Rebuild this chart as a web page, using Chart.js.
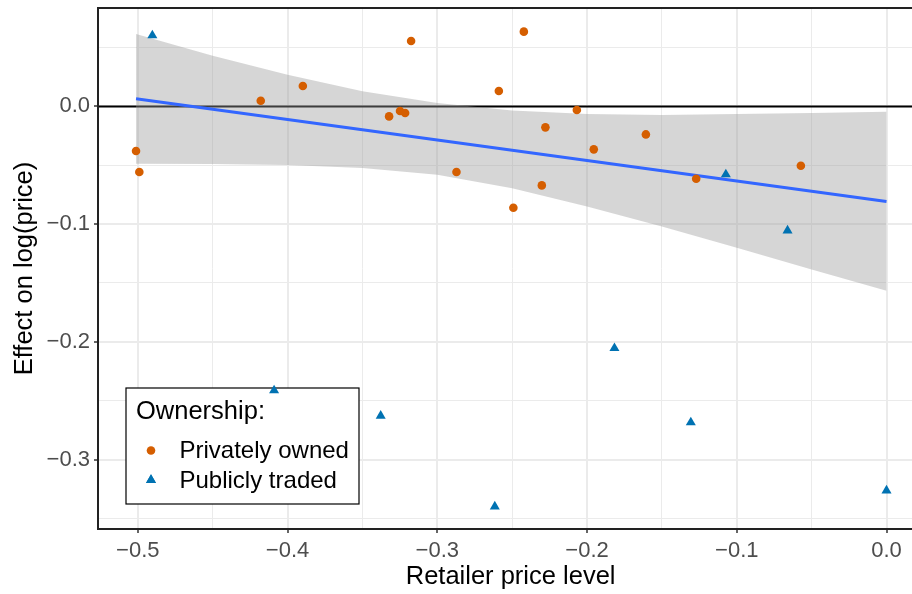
<!DOCTYPE html>
<html>
<head>
<meta charset="utf-8">
<script src="https://cdn.jsdelivr.net/npm/chart.js@4.4.0/dist/chart.umd.min.js"></script>
<style>
  html, body { margin: 0; padding: 0; background: #fff; overflow: hidden; }
  /* the panel runs a little past the right edge of the picture, so the canvas is wider and clipped */
  #wrap { width: 912px; height: 594px; overflow: hidden; position: relative; }
  #chart { position: absolute; left: 0; top: 0; }
</style>
</head>
<body>
<div id="wrap"><canvas id="chart" width="929" height="594"></canvas></div>
<script>
// privately owned retailers
const privX = [-0.5012, -0.4990, -0.4179, -0.3898, -0.3322, -0.3249, -0.3215, -0.3175, -0.2872, -0.2589,
               -0.2492, -0.2422, -0.2302, -0.2278, -0.2068, -0.1955, -0.1607, -0.1271, -0.0572];
const privY = [-0.0379, -0.0557, 0.0048, 0.0173, -0.0085, -0.0039, -0.0056, 0.0556, -0.0557, 0.0131,
               -0.0861, 0.0635, -0.0671, -0.0178, -0.0031, -0.0365, -0.0238, -0.0614, -0.0504];

// publicly traded retailers
const pubX = [-0.4903, -0.4090, -0.3378, -0.2616, -0.1817, -0.1307, -0.1073, -0.0661, 0.0];
const pubY = [0.0603, -0.2413, -0.2629, -0.3399, -0.2054, -0.2685, -0.0578, -0.1054, -0.3263];

// linear fit and its confidence band
const fitX = [-0.5012, 0.0];
const fitY = [0.0065, -0.0807];
const bandX = [-0.5012, -0.45, -0.4, -0.35, -0.3, -0.25, -0.2, -0.15, -0.1, -0.05, 0.0];
const bandUpper = [0.0615, 0.0431, 0.0269, 0.0128, 0.0029, -0.0035, -0.0065, -0.0073, -0.0065, -0.0056, -0.0045];
const bandLower = [-0.0487, -0.0490, -0.0498, -0.0524, -0.0580, -0.0695, -0.0850, -0.1020, -0.1200, -0.1385, -0.1566];

// ticks
const xTicks = [-0.5, -0.4, -0.3, -0.2, -0.1, 0.0];
const xTickLabels = ['\u22120.5', '\u22120.4', '\u22120.3', '\u22120.2', '\u22120.1', '0.0'];
const xMinor = [-0.45, -0.35, -0.25, -0.15, -0.05];
const yTicks = [-0.3, -0.2, -0.1, 0.0];
const yTickLabels = ['\u22120.3', '\u22120.2', '\u22120.1', '0.0'];
const yMinor = [-0.35, -0.25, -0.15, -0.05, 0.05];

const FONT = "'Liberation Sans', Arial, sans-serif";
Chart.defaults.font.family = FONT;

const toPoints = (xs, ys) => xs.map((x, i) => ({ x: x, y: ys[i] }));
const isMajor = (v, list) => list.some(t => Math.abs(t - v) < 1e-9);
const labelFor = (v, list, labels) => {
    const i = list.findIndex(t => Math.abs(t - v) < 1e-9);
    return i >= 0 ? labels[i] : '';
};
const allTicks = (major, minor) => major.concat(minor).sort((a, b) => a - b).map(v => ({ value: v }));
const noPadding = s => {
    s.paddingTop = 0;
    s.paddingBottom = 0;
    s.paddingLeft = 0;
    s.paddingRight = 0;
};

// zero line and legend box go under the marks; the points sit on top of them
const underlay = {
    id: 'underlay',
    beforeDatasetsDraw(chart) {
        const { ctx, chartArea, scales } = chart;
        const y = scales.y.getPixelForValue(0);
        ctx.save();
        ctx.strokeStyle = '#000';
        ctx.lineWidth = 2;
        ctx.beginPath();
        ctx.moveTo(chartArea.left, y);
        ctx.lineTo(chartArea.right, y);
        ctx.stroke();

        ctx.fillStyle = '#fff';
        ctx.fillRect(126, 388, 233, 116);
        ctx.strokeStyle = '#000';
        ctx.lineWidth = 1.2;
        ctx.strokeRect(126, 388, 233, 116);

        ctx.fillStyle = '#000';
        ctx.textAlign = 'left';
        ctx.textBaseline = 'alphabetic';
        ctx.font = "25.5px " + FONT;
        ctx.fillText('Ownership:', 136, 419);
        ctx.font = "24px " + FONT;
        ctx.fillText('Privately owned', 179.5, 458);
        ctx.fillText('Publicly traded', 179.5, 488);

        ctx.fillStyle = '#D55E00';
        ctx.beginPath();
        ctx.arc(151, 450.5, 4.3, 0, Math.PI * 2);
        ctx.fill();

        ctx.fillStyle = '#0072B2';
        Chart.helpers.drawPoint(ctx, { pointStyle: 'triangle', radius: 5.8, borderWidth: 0 }, 151, 480);
        ctx.fill();
        ctx.restore();
    }
};

const panelBorder = {
    id: 'panelBorder',
    afterDraw(chart) {
        const { ctx, chartArea } = chart;
        ctx.save();
        ctx.strokeStyle = '#222';
        ctx.lineWidth = 2;
        ctx.strokeRect(chartArea.left, chartArea.top, chartArea.right - chartArea.left, chartArea.bottom - chartArea.top);
        ctx.restore();
    }
};

new Chart(document.getElementById('chart'), {
    type: 'scatter',
    data: {
        datasets: [
            {
                label: 'Privately owned',
                data: toPoints(privX, privY),
                pointStyle: 'circle',
                pointRadius: 4.3,
                pointBackgroundColor: '#D55E00',
                pointBorderWidth: 0,
                order: 0
            },
            {
                label: 'Publicly traded',
                data: toPoints(pubX, pubY),
                pointStyle: 'triangle',
                pointRadius: 5.8,
                pointBackgroundColor: '#0072B2',
                pointBorderWidth: 0,
                order: 0
            },
            {
                type: 'line',
                label: 'fit',
                data: toPoints(fitX, fitY),
                borderColor: '#3366FF',
                borderWidth: 3,
                pointRadius: 0,
                fill: false,
                order: 1
            },
            {
                type: 'line',
                label: 'upper',
                data: toPoints(bandX, bandUpper),
                borderColor: 'rgba(0,0,0,0)',
                borderWidth: 0,
                pointRadius: 0,
                backgroundColor: 'rgba(153,153,153,0.4)',
                fill: '+1',
                order: 2
            },
            {
                type: 'line',
                label: 'lower',
                data: toPoints(bandX, bandLower),
                borderColor: 'rgba(0,0,0,0)',
                borderWidth: 0,
                pointRadius: 0,
                fill: false,
                order: 3
            }
        ]
    },
    options: {
        responsive: false,
        animation: false,
        devicePixelRatio: 1,
        layout: { padding: { top: 8, right: 0, bottom: 0, left: 0 } },
        plugins: {
            legend: { display: false },
            tooltip: { enabled: false }
        },
        scales: {
            x: {
                type: 'linear',
                min: -0.5266,
                max: 0.0245,
                afterBuildTicks: s => { s.ticks = allTicks(xTicks, xMinor); },
                afterFit: s => { s.height = 65; noPadding(s); },
                border: { display: false },
                grid: {
                    color: '#ebebeb',
                    lineWidth: c => (c.tick && isMajor(c.tick.value, xTicks)) ? 2 : 1,
                    tickColor: c => (c.tick && isMajor(c.tick.value, xTicks)) ? '#333' : 'rgba(0,0,0,0)',
                    tickWidth: 1.5,
                    tickLength: 4
                },
                ticks: {
                    autoSkip: false,
                    maxRotation: 0,
                    padding: 5,
                    color: '#4d4d4d',
                    font: { size: 22 },
                    callback: v => labelFor(v, xTicks, xTickLabels)
                },
                title: {
                    display: true,
                    text: 'Retailer price level',
                    color: '#000',
                    font: { size: 25.5 },
                    padding: { top: 0, bottom: 2 }
                }
            },
            y: {
                type: 'linear',
                min: -0.3590,
                max: 0.0836,
                afterBuildTicks: s => { s.ticks = allTicks(yTicks, yMinor); },
                afterFit: s => { s.width = 98; noPadding(s); },
                border: { display: false },
                grid: {
                    color: '#ebebeb',
                    lineWidth: c => (c.tick && isMajor(c.tick.value, yTicks)) ? 2 : 1,
                    tickColor: c => (c.tick && isMajor(c.tick.value, yTicks)) ? '#333' : 'rgba(0,0,0,0)',
                    tickWidth: 1.5,
                    tickLength: 4
                },
                ticks: {
                    autoSkip: false,
                    padding: 4,
                    color: '#4d4d4d',
                    font: { size: 22 },
                    callback: v => labelFor(v, yTicks, yTickLabels)
                },
                title: {
                    display: true,
                    text: 'Effect on log(price)',
                    color: '#000',
                    font: { size: 25.5 },
                    padding: { top: 10, bottom: 0 }
                }
            }
        }
    },
    plugins: [underlay, panelBorder]
});
</script>
</body>
</html>
